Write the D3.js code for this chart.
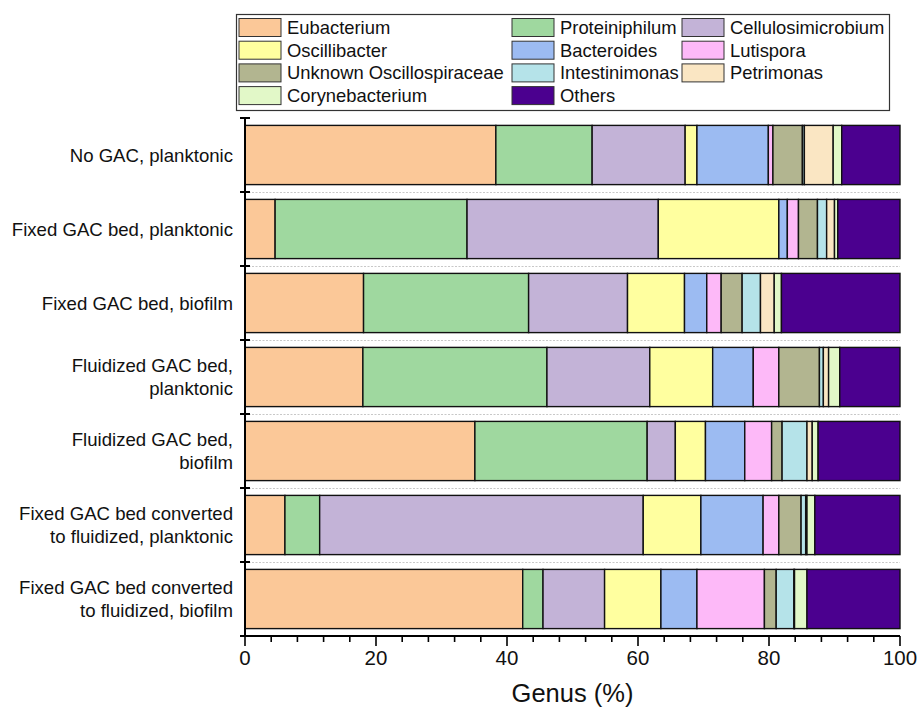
<!DOCTYPE html>
<html>
<head>
<meta charset="utf-8">
<script src="https://cdn.jsdelivr.net/npm/d3@7"></script>
<style>
    html, body { margin: 0; padding: 0; background: #fff; }
    svg { display: block; font-family: "Liberation Sans", Arial, sans-serif; }
</style>
</head>
<body>
<div id="chart"></div>
<script>
'use strict';

// Samples, top to bottom (line breaks as in the figure).
var categories = [
    'No GAC, planktonic',
    'Fixed GAC bed, planktonic',
    'Fixed GAC bed, biofilm',
    'Fluidized GAC bed,\nplanktonic',
    'Fluidized GAC bed,\nbiofilm',
    'Fixed GAC bed converted\nto fluidized, planktonic',
    'Fixed GAC bed converted\nto fluidized, biofilm'
];

// Genera in stacking order (left to right).
var genera = [
    'Eubacterium', 'Proteiniphilum', 'Cellulosimicrobium',
    'Oscillibacter', 'Bacteroides', 'Lutispora',
    'Unknown Oscillospiraceae', 'Intestinimonas', 'Petrimonas',
    'Corynebacterium', 'Others'
];

var colors = [
    '#fbc898', '#9fd89f', '#c3b3d7',
    '#ffff9f', '#9cbbf2', '#fdb9f8',
    '#b2b590', '#b5e3e9', '#fae6c3',
    '#e2f8c8', '#4b008f'
];

// Relative abundance (%) per genus, one value per sample (same order as categories).
var eubacterium        = [38.3,  4.6, 18.1, 18.0, 35.1,  6.1, 42.4];
var proteiniphilum     = [14.7, 29.3, 25.2, 28.1, 26.3,  5.3,  3.1];
var cellulosimicrobium = [14.2, 29.2, 15.1, 15.7,  4.3, 49.4,  9.4];
var oscillibacter      = [ 1.8, 18.4,  8.7,  9.6,  4.6,  8.8,  8.6];
var bacteroides        = [10.9,  1.3,  3.4,  6.2,  6.0,  9.5,  5.5];
var lutispora          = [ 0.7,  1.7,  2.2,  3.9,  4.1,  2.4, 10.3];
var unknownOscillo     = [ 4.5,  2.9,  3.2,  6.2,  1.6,  3.4,  1.8];
var intestinimonas     = [ 0.3,  1.4,  2.8,  0.6,  3.8,  0.7,  2.7];
var petrimonas         = [ 4.4,  1.2,  2.1,  0.8,  0.8,  0.2,  0.1];
var corynebacterium    = [ 1.3,  0.5,  1.1,  1.7,  0.9,  1.2,  1.9];
var others             = [ 8.9,  9.5, 18.1,  9.2, 12.5, 13.0, 14.2];

var series = [
    eubacterium, proteiniphilum, cellulosimicrobium,
    oscillibacter, bacteroides, lutispora,
    unknownOscillo, intestinimonas, petrimonas,
    corynebacterium, others
];

var xTicks = [0, 20, 40, 60, 80, 100];
var xMinorTicks = d3.range(0, 101, 4);

var width  = 919,
    height = 707,
    margin = {top: 118, right: 19, bottom: 71, left: 245},
    innerW = width - margin.left - margin.right,
    innerH = height - margin.top - margin.bottom;

// Build one row per sample with the genus values as columns.
var table = categories.map(function (c, i) {
    var row = {category: c};
    genera.forEach(function (g, j) {
        row[g] = series[j][i];
    });
    return row;
});

var stacked = d3.stack().keys(genera)(table);

var x = d3.scaleLinear()
    .domain([0, 100])
    .range([0, innerW]);

var y = d3.scaleBand()
    .domain(categories)
    .range([0, innerH])
    .paddingInner(0.2)
    .paddingOuter(0.1);

var color = d3.scaleOrdinal().domain(genera).range(colors);

var svg = d3.select('#chart').append('svg')
    .attr('width', width)
    .attr('height', height);

var vis = svg.append('g')
    .attr('transform', 'translate(' + margin.left + ',' + margin.top + ')');

// Dotted separators between the rows.
var yBounds = d3.scaleLinear().domain([0, categories.length]).range([0, innerH]);

vis.append('g')
    .selectAll('line')
    .data(d3.range(1, categories.length))
    .enter().append('line')
    .attr('x1', 0)
    .attr('x2', innerW)
    .attr('y1', function (d) { return Math.round(yBounds(d)) + 0.5; })
    .attr('y2', function (d) { return Math.round(yBounds(d)) + 0.5; })
    .attr('stroke', '#c8c8c8')
    .attr('stroke-width', 1.2)
    .attr('stroke-dasharray', '2,1.5');

// Draw the stacked bars.
vis.selectAll('.layer')
    .data(stacked)
    .enter().append('g')
    .attr('class', 'layer')
    .attr('fill', function (d) { return color(d.key); })
    .selectAll('rect')
    .data(function (d) { return d; })
    .enter().append('rect')
    .attr('x', function (d) { return x(d[0]); })
    .attr('y', function (d) { return y(d.data.category); })
    .attr('width', function (d) { return Math.max(0, x(d[1]) - x(d[0])); })
    .attr('height', y.bandwidth())
    .attr('stroke', '#111')
    .attr('stroke-width', 1.4);

// Left axis: line with crossing ticks at row bounds.
var yAxis = vis.append('g').attr('class', 'axis');

yAxis.append('line')
    .attr('x1', 0).attr('x2', 0)
    .attr('y1', 0).attr('y2', innerH)
    .attr('stroke', '#000')
    .attr('stroke-width', 2);

yAxis.selectAll('.ytick')
    .data(d3.range(0, categories.length + 1))
    .enter().append('line')
    .attr('class', 'ytick')
    .attr('x1', -5).attr('x2', 5)
    .attr('y1', function (d) { return yBounds(d); })
    .attr('y2', function (d) { return yBounds(d); })
    .attr('stroke', '#000')
    .attr('stroke-width', 2);

// Category labels, right aligned, possibly two lines.
yAxis.selectAll('.ylabel')
    .data(categories)
    .enter().append('text')
    .attr('class', 'ylabel')
    .attr('text-anchor', 'end')
    .attr('font-size', 18.6)
    .attr('fill', '#111')
    .each(function (d) {
        var lines = d.split('\n'),
            cy = y(d) + y.bandwidth() / 2,
            lh = 23,
            t = d3.select(this);
        lines.forEach(function (l, i) {
            t.append('tspan')
                .attr('x', -12)
                .attr('y', cy + (i - (lines.length - 1) / 2) * lh)
                .attr('dy', '0.35em')
                .text(l);
        });
    });

// Bottom axis.
var xAxis = vis.append('g')
    .attr('transform', 'translate(0,' + innerH + ')');

xAxis.append('line')
    .attr('x1', 0).attr('x2', innerW)
    .attr('stroke', '#000')
    .attr('stroke-width', 2);

xAxis.selectAll('.minor')
    .data(xMinorTicks)
    .enter().append('line')
    .attr('x1', function (d) { return x(d); })
    .attr('x2', function (d) { return x(d); })
    .attr('y1', 0)
    .attr('y2', function (d) { return xTicks.indexOf(d) >= 0 ? 10 : 6; })
    .attr('stroke', '#000')
    .attr('stroke-width', 1.6);

xAxis.selectAll('.xlabel')
    .data(xTicks)
    .enter().append('text')
    .attr('x', function (d) { return x(d); })
    .attr('y', 22)
    .attr('dy', '0.35em')
    .attr('text-anchor', 'middle')
    .attr('font-size', 20.5)
    .attr('fill', '#111')
    .text(function (d) { return d; });

xAxis.append('text')
    .attr('x', innerW / 2)
    .attr('y', 57)
    .attr('dy', '0.35em')
    .attr('text-anchor', 'middle')
    .attr('font-size', 25.5)
    .attr('fill', '#111')
    .text('Genus (%)');

// Legend box: 3 columns, row major.
var legend = svg.append('g').attr('class', 'legend');

legend.append('rect')
    .attr('x', 236.5).attr('y', 14.5)
    .attr('width', 653).attr('height', 96)
    .attr('fill', '#fff')
    .attr('stroke', '#333')
    .attr('stroke-width', 1.2);

var legendCols = [239, 512, 682],
    legendRowY = 18.5,
    legendRowH = 22.7;

var items = legend.selectAll('.item')
    .data(genera)
    .enter().append('g')
    .attr('class', 'item')
    .attr('transform', function (d, i) {
        return 'translate(' + legendCols[i % 3] + ',' + (legendRowY + Math.floor(i / 3) * legendRowH) + ')';
    });

items.append('rect')
    .attr('width', 42)
    .attr('height', 18)
    .attr('fill', function (d) { return color(d); })
    .attr('stroke', '#333')
    .attr('stroke-width', 1);

items.append('text')
    .attr('x', 48)
    .attr('y', 9)
    .attr('dy', '0.35em')
    .attr('font-size', 18.4)
    .attr('fill', '#111')
    .text(function (d) { return d; });
</script>
</body>
</html>
